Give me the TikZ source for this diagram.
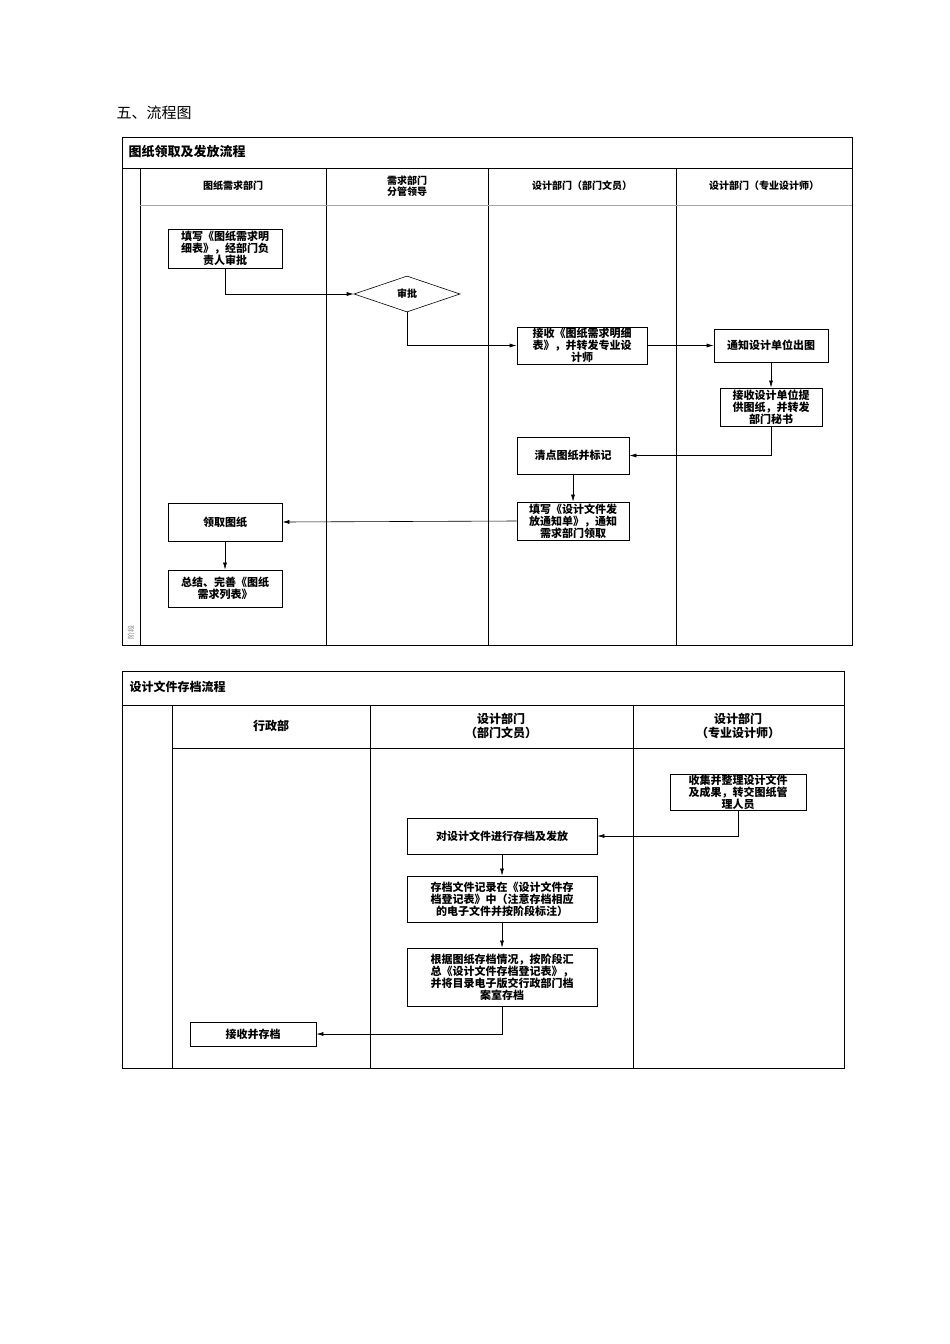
\documentclass[tikz,border=0pt]{standalone}
\usepackage{fontspec}
\setmainfont{Noto Sans CJK SC}
\usetikzlibrary{shapes.geometric,arrows.meta}
\begin{document}
\begin{tikzpicture}[x=1pt,y=-1pt,
 box/.style={draw,line width=0.8pt,inner sep=0pt,align=center,font=\fontsize{11}{12}\selectfont\bfseries},
 hd/.style={font=\fontsize{10}{11}\selectfont\bfseries,align=center},
 arr/.style={-{Latex[length=7pt,width=4pt]},line width=0.6pt},
 frame/.style={line width=0.8pt},
 gl/.style={gray!70,line width=1pt}]
\useasboundingbox (0,0) rectangle (950,1344);
\node[anchor=west,font=\fontsize{15}{16}\selectfont] (t0) at (113,113) {五、流程图};
% top table
\draw[frame] (122,137) rectangle (852,645);
\draw[frame] (122,168) -- (852,168);
\foreach \x in {140,326,488,676} \draw[frame] (\x,168) -- (\x,645);
\draw[gl] (140,205) -- (852,205);
\node[anchor=west,font=\fontsize{13}{14}\selectfont\bfseries] (t1) at (125,152) {图纸领取及发放流程};
\node[hd] (h1) at (233,186) {图纸需求部门};
\node[hd] (h2) at (407,186) {需求部门\\分管领导};
\node[hd] (h3) at (582,186) {设计部门（部门文员）};
\node[hd] (h4) at (764,186) {设计部门（专业设计师）};
\node[rotate=90,font=\fontsize{7}{8}\selectfont,gray] (ph) at (131,632) {阶段};
\node[box,minimum width=114,minimum height=39] (A) at (225,248.5) {填写《图纸需求明\\细表》，经部门负\\责人审批};
\node[draw,diamond,aspect=2.9,line width=0.6pt,inner sep=1pt,minimum width=106,minimum height=36,font=\fontsize{10}{11}\selectfont\bfseries] (Dm) at (407,294) {审批};
\node[box,minimum width=130,minimum height=37] (B) at (582,345.5) {接收《图纸需求明细\\表》，并转发专业设\\计师};
\node[box,minimum width=114,minimum height=33] (C) at (771,345.5) {通知设计单位出图};
\node[box,minimum width=102,minimum height=38] (D) at (771,407) {接收设计单位提\\供图纸，并转发\\部门秘书};
\node[box,minimum width=112,minimum height=37] (E) at (573,455.5) {清点图纸并标记};
\node[box,minimum width=112,minimum height=38] (F) at (573,521) {填写《设计文件发\\放通知单》，通知\\需求部门领取};
\node[box,minimum width=114,minimum height=38] (G) at (225,522) {领取图纸};
\node[box,minimum width=114,minimum height=37] (H) at (225,588.5) {总结、完善《图纸\\需求列表》};
\draw[arr] (A.south) |- (Dm.west);
\draw[arr] (Dm.south) |- (B.west);
\draw[arr] (B.east) -- (C.west);
\draw[arr] (C.south) -- (D.north);
\draw[arr] (D.south) |- (E.east);
\draw[arr] (E.south) -- (F.north);
\draw[arr] (F.west) -- (G.east);
\draw[arr] (G.south) -- (H.north);
% bottom table
\draw[frame] (122,671) rectangle (844,1068);
\draw[frame] (122,705) -- (844,705);
\draw[frame] (172,748) -- (844,748);
\foreach \x in {172,370,633} \draw[frame] (\x,705) -- (\x,1068);
\node[anchor=west,font=\fontsize{12}{13}\selectfont\bfseries] (t2) at (126,687) {设计文件存档流程};
\node[hd,font=\fontsize{12}{14}\selectfont\bfseries] (k1) at (271,726) {行政部};
\node[hd,font=\fontsize{12}{14}\selectfont\bfseries] (k2) at (501,726) {设计部门\\（部门文员）};
\node[hd,font=\fontsize{12}{14}\selectfont\bfseries] (k3) at (738,726) {设计部门\\（专业设计师）};
\node[box,minimum width=136,minimum height=36] (I) at (738,792) {收集并整理设计文件\\及成果，转交图纸管\\理人员};
\node[box,minimum width=190,minimum height=36] (J) at (502,836) {对设计文件进行存档及发放};
\node[box,minimum width=190,minimum height=46] (K) at (502,899) {存档文件记录在《设计文件存\\档登记表》中（注意存档相应\\的电子文件并按阶段标注）};
\node[box,minimum width=190,minimum height=58] (L) at (502,977) {根据图纸存档情况，按阶段汇\\总《设计文件存档登记表》，\\并将目录电子版交行政部门档\\案室存档};
\node[box,minimum width=126,minimum height=24] (M) at (253,1034) {接收并存档};
\draw[arr] (I.south) |- (J.east);
\draw[arr] (J.south) -- (K.north);
\draw[arr] (K.south) -- (L.north);
\draw[arr] (L.south) |- (M.east);
\end{tikzpicture}
\end{document}
